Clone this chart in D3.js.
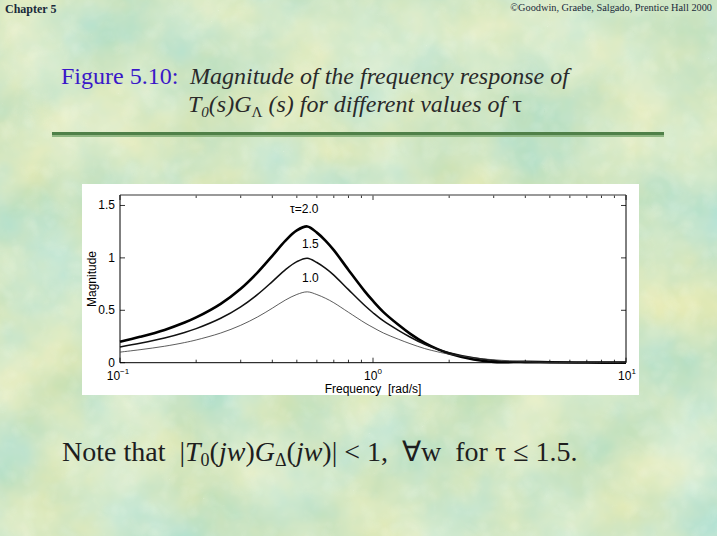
<!DOCTYPE html>
<html><head><meta charset="utf-8">
<script src="https://cdn.jsdelivr.net/npm/d3@7"></script>
<style>html,body{margin:0;padding:0;overflow:hidden;background:#aed09c}</style>
</head><body>
<script>
// ---- data ----
const freq   = [0.1,0.12,0.15,0.18,0.2,0.25,0.3,0.35,0.4,0.45,0.5,0.55,0.6,0.65,0.7,0.8,0.93,1.0,1.1,1.26,1.4,1.6,1.8,2.0,2.5,3.0,4.0,5.0,7.0,10];
const tau20  = [0.200,0.247,0.313,0.383,0.432,0.562,0.706,0.862,1.020,1.163,1.262,1.300,1.241,1.163,1.074,0.885,0.678,0.589,0.483,0.362,0.278,0.189,0.129,0.088,0.030,0.006,0.008,0.005,0.0014,0.0004];
const tau15  = [0.150,0.185,0.235,0.288,0.325,0.424,0.533,0.652,0.774,0.886,0.964,0.997,0.956,0.900,0.836,0.697,0.543,0.477,0.398,0.308,0.245,0.176,0.129,0.096,0.047,0.022,0.003,0.003,0.002,0.001];
const tau10  = [0.101,0.124,0.157,0.192,0.217,0.283,0.357,0.437,0.520,0.597,0.651,0.676,0.650,0.614,0.572,0.481,0.379,0.336,0.283,0.224,0.182,0.135,0.104,0.081,0.047,0.028,0.011,0.004,0.001,0.001];
const seriesNames = ["τ=2.0","1.5","1.0"];
const yTicks = [0, 0.5, 1, 1.5];
const xDecades = [0.1, 1, 10];
const xDecadeExp = ["−1","0","1"];

const W = 717, H = 536;
const svg = d3.select("body").append("svg").attr("width", W).attr("height", H);
const defs = svg.append("defs");
const f = defs.append("filter").attr("id","tex").attr("x",0).attr("y",0).attr("width","100%").attr("height","100%");
f.append("feTurbulence").attr("type","fractalNoise").attr("baseFrequency","0.012").attr("numOctaves",4).attr("seed",11).attr("result","n");
f.append("feColorMatrix").attr("in","n").attr("type","matrix")
 .attr("values","0.55 0 0 0 0.39  0.2 0.1 0 0 0.67  0 0.35 0 0 0.42  0 0 0 0 1");
const f2 = defs.append("filter").attr("id","grain").attr("x",0).attr("y",0).attr("width","100%").attr("height","100%");
f2.append("feTurbulence").attr("type","turbulence").attr("baseFrequency","0.05").attr("numOctaves",2).attr("seed",3).attr("result","g");
f2.append("feColorMatrix").attr("in","g").attr("type","matrix")
 .attr("values","0 0 0 0 0.95  0 0 0 0 1  0 0 0 0 0.9  0.7 0 0 0 -0.15");

svg.append("rect").attr("width",W).attr("height",H).attr("fill","#aed09c");
svg.append("rect").attr("width",W).attr("height",H).attr("filter","url(#tex)").attr("opacity",0.9);
svg.append("rect").attr("width",W).attr("height",H).attr("filter","url(#grain)").attr("opacity",0.45);

// header
svg.append("text").attr("x",5).attr("y",13).attr("font-family","Liberation Serif").attr("font-weight","bold")
  .attr("font-size",12).attr("fill","#1a2a3a").text("Chapter 5");
svg.append("text").attr("x",712).attr("y",11).attr("text-anchor","end").attr("font-family","Liberation Serif")
  .attr("font-size",10.3).attr("fill","#1a2a3a").text("©Goodwin, Graebe, Salgado, Prentice Hall 2000");

// title
const serif = "Liberation Serif";
const t1 = svg.append("text").attr("x",61).attr("y",84).attr("font-family",serif).attr("font-size",24);
t1.append("tspan").attr("fill","#3a18c8").text("Figure 5.10:");
t1.append("tspan").attr("x",190).attr("font-style","italic").attr("fill","#2a2a2a").text("Magnitude of the frequency response of");
const t2 = svg.append("text").attr("x",188).attr("y",112).attr("font-family",serif).attr("font-size",24)
  .attr("font-style","italic").attr("fill","#2a2a2a");
t2.append("tspan").text("T");
t2.append("tspan").attr("font-size",15).attr("dy",5).text("0");
t2.append("tspan").attr("dy",-5).text("(s)G");
t2.append("tspan").attr("font-size",15).attr("dy",5).attr("font-style","normal").text("Λ");
t2.append("tspan").attr("dy",-5).text(" (s) for different values of ");
t2.append("tspan").attr("font-style","normal").text("τ");

// rule
svg.append("rect").attr("x",52).attr("y",132).attr("width",612).attr("height",3.5).attr("fill","#4f8048");
svg.append("rect").attr("x",52).attr("y",135.5).attr("width",612).attr("height",1.5).attr("fill","#8fb882");

// plot panel
svg.append("rect").attr("x",82).attr("y",184).attr("width",557).attr("height",211).attr("fill","#ffffff");

const m = {l:120, r:626, t:195, b:362.7};
const x = d3.scaleLog().domain([0.1,10]).range([m.l,m.r]);
const y = d3.scaleLinear().domain([0,1.6]).range([m.b,m.t]);
const g = svg.append("g");

const minor = [];
[0.1,1].forEach(d=>{for(let k=2;k<=9;k++) minor.push(d*k);});
g.selectAll(".mnb").data(minor).join("line").attr("x1",d=>x(d)).attr("x2",d=>x(d))
  .attr("y1",m.b).attr("y2",m.b-3).attr("stroke","#000").attr("stroke-width",0.8);
g.selectAll(".mnt").data(minor).join("line").attr("x1",d=>x(d)).attr("x2",d=>x(d))
  .attr("y1",m.t).attr("y2",m.t+3).attr("stroke","#000").attr("stroke-width",0.8);
g.selectAll(".mjb").data(xDecades).join("line").attr("x1",d=>x(d)).attr("x2",d=>x(d))
  .attr("y1",m.b).attr("y2",m.b-5).attr("stroke","#000").attr("stroke-width",0.8);
g.selectAll(".mjt").data(xDecades).join("line").attr("x1",d=>x(d)).attr("x2",d=>x(d))
  .attr("y1",m.t).attr("y2",m.t+5).attr("stroke","#000").attr("stroke-width",0.8);
g.selectAll(".yl").data(yTicks).join("line").attr("x1",m.l).attr("x2",m.l+5)
  .attr("y1",d=>y(d)).attr("y2",d=>y(d)).attr("stroke","#000").attr("stroke-width",0.8);
g.selectAll(".yr").data(yTicks).join("line").attr("x1",m.r).attr("x2",m.r-5)
  .attr("y1",d=>y(d)).attr("y2",d=>y(d)).attr("stroke","#000").attr("stroke-width",0.8);

g.append("line").attr("x1",m.l).attr("x2",m.r).attr("y1",m.t).attr("y2",m.t).attr("stroke","#777").attr("stroke-width",1.6);
g.append("line").attr("x1",m.l).attr("x2",m.r).attr("y1",m.b).attr("y2",m.b).attr("stroke","#000").attr("stroke-width",1);
g.append("line").attr("x1",m.l).attr("x2",m.l).attr("y1",m.t).attr("y2",m.b).attr("stroke","#000").attr("stroke-width",1);
g.append("line").attr("x1",m.r).attr("x2",m.r).attr("y1",m.t).attr("y2",m.b).attr("stroke","#000").attr("stroke-width",1);

const sans = "Liberation Sans";
const fs = 12;
g.selectAll(".ytl").data(yTicks).join("text").attr("x",m.l-5).attr("y",d=>y(d)+4)
  .attr("text-anchor","end").attr("font-family",sans).attr("font-size",fs).text(d=>d===0?"0":d);
xDecades.forEach((d,i)=>{
  const tx = g.append("text").attr("x",x(d)-(i===0?2:(i===2?-1:0))).attr("y",m.b+17).attr("text-anchor","middle")
    .attr("font-family",sans).attr("font-size",fs);
  tx.append("tspan").text("10");
  tx.append("tspan").attr("font-size",8).attr("dy",-6).text(xDecadeExp[i]);
});
g.append("text").attr("x",373).attr("y",393).attr("text-anchor","middle").attr("font-family",sans)
  .attr("font-size",fs).attr("xml:space","preserve").text("Frequency  [rad/s]");
g.append("text").attr("transform","translate(96,279) rotate(-90)").attr("text-anchor","middle")
  .attr("font-family",sans).attr("font-size",fs).text("Magnitude");

const series = [tau20, tau15, tau10];
const widths = [2.6, 1.5, 0.8];
const cols = ["#000","#111","#333"];
const line = d3.line().x(d=>x(d[0])).y(d=>y(d[1])).curve(d3.curveCatmullRom.alpha(0.5));
series.forEach((s,i)=>{
  g.append("path").datum(freq.map((f,j)=>[f,s[j]])).attr("d",line)
   .attr("fill","none").attr("stroke",cols[i]).attr("stroke-width",widths[i]).attr("stroke-linejoin","round");
});
const peakIdx = 11;
const labOff = [[-3,-13],[3,-10],[3,-10]];
series.forEach((s,i)=>{
  g.append("text").attr("x",x(freq[peakIdx])+labOff[i][0]).attr("y",y(s[peakIdx])+labOff[i][1])
   .attr("text-anchor","middle").attr("font-family",sans).attr("font-size",fs).text(seriesNames[i]);
});

// note
const n = svg.append("text").attr("x",62).attr("y",461).attr("font-family",serif).attr("font-size",28).attr("fill","#1e1e1e")
  .attr("xml:space","preserve");
n.append("tspan").text("Note that  |");
n.append("tspan").attr("font-style","italic").text("T");
n.append("tspan").attr("font-size",18).attr("dy",5).text("0");
n.append("tspan").attr("dy",-5).text("(");
n.append("tspan").attr("font-style","italic").text("jw");
n.append("tspan").text(")");
n.append("tspan").attr("font-style","italic").text("G");
n.append("tspan").attr("font-size",18).attr("dy",5).text("Δ");
n.append("tspan").attr("dy",-5).text("(");
n.append("tspan").attr("font-style","italic").text("jw");
n.append("tspan").text(")| < 1,  ∀w  for τ ≤ 1.5.");
</script>
</body></html>
